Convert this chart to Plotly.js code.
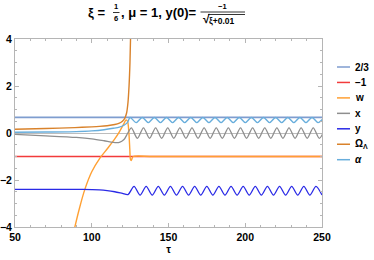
<!DOCTYPE html>
<html>
<head>
<meta charset="utf-8">
<script src="https://cdn.plot.ly/plotly-3.0.1.min.js"></script>
<style>html,body{margin:0;padding:0;background:#fff;}#chart{width:374px;height:260px;}</style>
</head>
<body>
<div id="chart"></div>
<script>
// ---- data ----
const seriesNames = ["2/3", "\u22121", "w", "x", "y", "\u03a9<sub>\u039b</sub>", "<i>\u03b1</i>"];
const seriesColors = ["#7f9dcf", "#f23b3b", "#ffa033", "#8e8e8e", "#2a2ae6", "#d9822b", "#68aedc"];

const tauConst = [50, 250];
const twoThirds = [2/3, 2/3];
const minusOne = [-1, -1];

const tauW = [87, 89, 92, 95.5, 100, 105, 110, 115, 118, 121, 122.3, 123.3, 124.2, 124.8, 125.2, 125.7, 126.3, 127, 140, 250];
const wVals = [-4.6, -4.0, -3.2, -2.4, -1.65, -1.1, -0.68, -0.25, 0.05, 0.4, 0.56, 0.5, 0.0, -0.7, -1.12, -1.17, -1.08, -1.0, -1.0, -1.0];

const tauX = [50, 70, 90, 100, 108, 114, 118, 121, 123.5,
  125.8, 129.75, 133.7, 137.65, 141.6, 145.55, 149.5, 153.45, 157.4, 161.35, 165.3, 169.25, 173.2, 177.15,
  181.1, 185.05, 189.0, 192.95, 196.9, 200.85, 204.8, 208.75, 212.7, 216.65, 220.6, 224.55, 228.5, 232.45,
  236.4, 240.35, 244.3, 248.25, 252.2];
const xVals = [-0.06, -0.12, -0.19, -0.25, -0.33, -0.4, -0.4, -0.28, 0.0,
  0.22, -0.23, 0.22, -0.23, 0.22, -0.23, 0.22, -0.23, 0.22, -0.23, 0.22, -0.23, 0.22, -0.23,
  0.22, -0.23, 0.22, -0.23, 0.22, -0.23, 0.22, -0.23, 0.22, -0.23, 0.22, -0.23, 0.22, -0.23,
  0.22, -0.23, 0.22, -0.23, 0.22];

const tauY = [50, 70, 90, 100, 105, 110, 115, 120, 123.6,
  127.55, 131.5, 135.45, 139.4, 143.35, 147.3, 151.25, 155.2, 159.15, 163.1, 167.05, 171.0, 174.95, 178.9,
  182.85, 186.8, 190.75, 194.7, 198.65, 202.6, 206.55, 210.5, 214.45, 218.4, 222.35, 226.3, 230.25, 234.2,
  238.15, 242.1, 246.05, 250.0];
const yVals = [-2.4, -2.4, -2.4, -2.41, -2.42, -2.45, -2.5, -2.57, -2.62,
  -2.27, -2.64, -2.27, -2.64, -2.27, -2.64, -2.27, -2.64, -2.27, -2.64, -2.27, -2.64, -2.27, -2.64,
  -2.27, -2.64, -2.27, -2.64, -2.27, -2.64, -2.27, -2.64, -2.27, -2.64, -2.27, -2.64, -2.27, -2.64,
  -2.27, -2.64, -2.27, -2.64];

const tauOmega = [50, 70, 89, 100, 105, 110, 115, 118, 120, 121.5, 122.7, 123.6, 124.3, 124.9, 125.4];
const omegaVals = [0.16, 0.19, 0.23, 0.26, 0.28, 0.31, 0.36, 0.42, 0.5, 0.62, 0.85, 1.3, 2.0, 3.0, 4.4];

const tauAlpha = [50, 70, 90, 100, 108, 114, 118, 121, 123.2,
  125.0, 128.95, 132.9, 136.85, 140.8, 144.75, 148.7, 152.65, 156.6, 160.55, 164.5, 168.45, 172.4, 176.35,
  180.3, 184.25, 188.2, 192.15, 196.1, 200.05, 204.0, 207.95, 211.9, 215.85, 219.8, 223.75, 227.7, 231.65,
  235.6, 239.55, 243.5, 247.45, 251.4];
const alphaVals = [0.03, 0.04, 0.06, 0.09, 0.14, 0.2, 0.25, 0.33, 0.44,
  0.66, 0.44, 0.66, 0.44, 0.66, 0.44, 0.66, 0.44, 0.66, 0.44, 0.66, 0.44, 0.66, 0.44,
  0.66, 0.44, 0.66, 0.44, 0.66, 0.44, 0.66, 0.44, 0.66, 0.44, 0.66, 0.44, 0.66, 0.44,
  0.66, 0.44, 0.66, 0.44, 0.66];

const xTickVals = [50, 100, 150, 200, 250];
const yTickVals = [-4, -2, 0, 2, 4];
const yTickText = ["\u22124", "\u22122", "0", "2", "4"];

// ---- figure ----
const FONT = "Liberation Sans, Arial, sans-serif";
const seriesX = [tauConst, tauConst, tauW, tauX, tauY, tauOmega, tauAlpha];
const seriesY = [twoThirds, minusOne, wVals, xVals, yVals, omegaVals, alphaVals];
const widths = [1.8, 1.3, 1.4, 1.3, 1.3, 1.4, 1.4];

const traces = seriesY.map((ys, i) => ({
  type: "scatter", mode: "lines", x: seriesX[i], y: ys, name: seriesNames[i],
  line: {color: seriesColors[i], width: widths[i], shape: "spline", smoothing: 0.8},
  showlegend: false, hoverinfo: "skip"
}));

// plot area in pixels
const L = 15, R = 322, T = 39, B = 227;
const px = v => (v - L) / (R - L);
const py = v => (B - v) / (B - T);

const shapes = [];
const annotations = [];
// custom legend
const legY0 = 67, legStep = 15.45;
seriesNames.forEach((n, i) => {
  const yy = legY0 + i * legStep;
  shapes.push({type: "line", xref: "paper", yref: "paper", x0: px(337), x1: px(350), y0: py(yy), y1: py(yy),
    line: {color: seriesColors[i], width: 1.5}});
  annotations.push({xref: "paper", yref: "paper", x: px(353), y: py(yy), xanchor: "left", yanchor: "middle",
    text: n, showarrow: false, font: {family: FONT, size: 10, color: "#000", weight: "bold"}});
});

// title built from pieces (stacked fractions)
const tf = {family: FONT, size: 13, color: "#000", weight: "bold"};
const sf = {family: FONT, size: 7.5, color: "#000", weight: "bold"};
const df = {family: FONT, size: 8.5, color: "#000", weight: "bold"};
annotations.push({xref: "paper", yref: "paper", x: px(86), y: py(13), xanchor: "left", yanchor: "middle",
  text: "\u03be =", showarrow: false, font: tf});
annotations.push({xref: "paper", yref: "paper", x: px(116), y: py(7), xanchor: "center", yanchor: "middle",
  text: "1", showarrow: false, font: sf});
annotations.push({xref: "paper", yref: "paper", x: px(116), y: py(18.5), xanchor: "center", yanchor: "middle",
  text: "6", showarrow: false, font: sf});
shapes.push({type: "line", xref: "paper", yref: "paper", x0: px(113), x1: px(119.5), y0: py(12.5), y1: py(12.5),
  line: {color: "#000", width: 0.8}});
annotations.push({xref: "paper", yref: "paper", x: px(118.5), y: py(13), xanchor: "left", yanchor: "middle",
  text: ", \u03bc = 1, y(0)=", showarrow: false, font: tf});
annotations.push({xref: "paper", yref: "paper", x: px(222), y: py(6), xanchor: "center", yanchor: "middle",
  text: "\u22121", showarrow: false, font: sf});
shapes.push({type: "line", xref: "paper", yref: "paper", x0: px(200.5), x1: px(245), y0: py(12), y1: py(12),
  line: {color: "#000", width: 0.8}});
annotations.push({xref: "paper", yref: "paper", x: px(201), y: py(19.5), xanchor: "left", yanchor: "middle",
  text: "\u221a", showarrow: false, font: {family: FONT, size: 12, color: "#000", weight: "bold"}});
shapes.push({type: "line", xref: "paper", yref: "paper", x0: px(208), x1: px(245), y0: py(14.5), y1: py(14.5),
  line: {color: "#000", width: 0.8}});
annotations.push({xref: "paper", yref: "paper", x: px(207), y: py(20.5), xanchor: "left", yanchor: "middle",
  text: "\u03be+0.01", showarrow: false, font: df});

const frameColor = "#b5b5b5";
const layout = {
  width: 374, height: 260, autosize: false,
  margin: {l: L, r: 374 - R, t: T, b: 260 - B, pad: 0},
  paper_bgcolor: "#fff", plot_bgcolor: "#fff",
  font: {family: FONT, color: "#000"},
  showlegend: false,
  xaxis: {
    range: [50, 250], tickvals: xTickVals, ticks: "inside", ticklen: 4, tickcolor: frameColor, tickwidth: 1,
    minor: {dtick: 10, ticks: "inside", ticklen: 2, tickcolor: frameColor},
    showline: true, linecolor: frameColor, linewidth: 1, mirror: "ticks",
    showgrid: false, zeroline: false,
    tickfont: {family: FONT, size: 10.5, color: "#000", weight: "bold"},
    title: {text: "\u03c4", font: {family: FONT, size: 10.5, color: "#000", weight: "bold"}, standoff: 4}
  },
  yaxis: {
    range: [-4, 4], tickvals: yTickVals, ticktext: yTickText, ticks: "inside", ticklen: 4, tickcolor: frameColor, tickwidth: 1,
    minor: {dtick: 0.5, ticks: "inside", ticklen: 2, tickcolor: frameColor},
    showline: true, linecolor: frameColor, linewidth: 1, mirror: "ticks",
    showgrid: false, zeroline: true, zerolinecolor: "#bdbdbd", zerolinewidth: 1,
    tickfont: {family: FONT, size: 10.5, color: "#000", weight: "bold"}
  },
  shapes: shapes,
  annotations: annotations
};

Plotly.newPlot("chart", traces, layout, {staticPlot: true, displayModeBar: false});
</script>
</body>
</html>
